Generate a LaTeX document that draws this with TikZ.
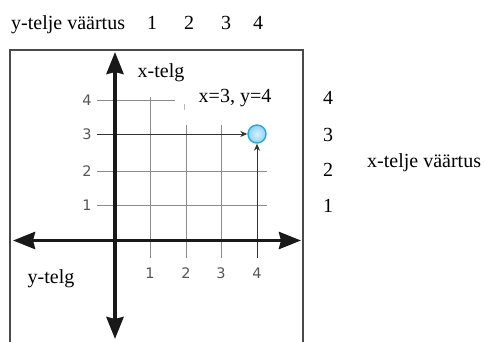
\documentclass[tikz,border=0pt]{standalone}
\usepackage{fontspec}
\setmainfont{Liberation Serif}
\newfontfamily\ticksans{DejaVu Sans}
\usetikzlibrary{arrows.meta}
\definecolor{gridgray}{HTML}{8C8C8C}
\definecolor{framegray}{HTML}{4A4A4A}
\definecolor{ticktxt}{HTML}{555555}
\definecolor{dotfill}{HTML}{8FD3F5}
\definecolor{dotline}{HTML}{22A8EA}
\begin{document}
\begin{tikzpicture}[x=1pt,y=-1pt,
  lbl/.style={font=\fontsize{20pt}{22pt}\selectfont, inner sep=0pt, text=black},
  tick/.style={font=\ticksans\fontsize{14.5pt}{16pt}\selectfont, inner sep=0pt, text=ticktxt},
  gridln/.style={draw=gridgray, line width=0.9pt},
  gridarrow/.style={gridln, draw=black!80, -{Stealth[length=7pt,width=6pt]}},
  axis/.style={line width=3.8pt, draw=black!90, -{Stealth[length=22pt,width=17pt,inset=2pt]}},
  framestyle/.style={draw=framegray, line width=1.8pt},
  dot/.style={circle, minimum size=18pt, inner sep=0pt, draw=dotline, line width=1.4pt, inner color=dotfill!35, outer color=dotfill}
]
\useasboundingbox (0,0) rectangle (485,342);
% frame
\coordinate (fbl) at (10,343);
\coordinate (ftl) at (10,50);
\coordinate (ftr) at (303,50);
\coordinate (fbr) at (303,343);
\draw[framestyle] (fbl) -- (ftl) -- (ftr) -- (fbr);
% grid coordinates
\coordinate (h4a) at (97,100); \coordinate (h4b) at (175,100);
\coordinate (h3a) at (97,134);
\coordinate (h2a) at (97,171); \coordinate (h2b) at (267,171);
\coordinate (h1a) at (97,205); \coordinate (h1b) at (267,205);
\coordinate (v1a) at (150,97); \coordinate (v1b) at (150,258);
\coordinate (v2a) at (186,125); \coordinate (v2b) at (186,258);
\coordinate (v3a) at (221,125); \coordinate (v3b) at (221,258);
\coordinate (v4b) at (257,258);
\coordinate (m2a) at (184,104); \coordinate (m2b) at (184,110);
\draw[gridln] (h4a) -- (h4b);
\draw[gridln] (h2a) -- (h2b);
\draw[gridln] (h1a) -- (h1b);
\draw[gridln] (v1a) -- (v1b);
\draw[gridln] (v2a) -- (v2b);
\draw[gridln] (v3a) -- (v3b);
\draw[gridln, draw=gridgray!60] (m2a) -- (m2b);
% point
\node[dot] (pt) at (257,134) {};
\draw[gridarrow] (h3a) -- (pt.west);
\draw[gridarrow] (v4b) -- (pt.south);
% axes
\coordinate (yb) at (115,52);
\coordinate (yc) at (115,339);
\coordinate (xc) at (115,240.5);
\coordinate (xa) at (13,240.5);
\coordinate (xb) at (301,240.5);
\draw[axis] (xc) -- (yb);
\draw[axis] (xc) -- (yc);
\draw[axis] (xc) -- (xa);
\draw[axis] (xc) -- (xb);
% tick labels
\node[tick] (t4) at (87,100) {4};
\node[tick] (t3) at (87,134) {3};
\node[tick] (t2) at (87,171) {2};
\node[tick] (t1) at (87,205) {1};
\node[tick] (b1) at (150,273) {1};
\node[tick] (b2) at (186,273) {2};
\node[tick] (b3) at (221,273) {3};
\node[tick] (b4) at (257,273) {4};
% labels
\node[lbl] (xtelg) at (161,73) {x-telg};
\node[lbl] (coord) at (235,98) {x=3, y=4};
\node[lbl] (ytelg) at (51,279) {y-telg};
\node[lbl, anchor=base west] (ytv) at (11,30) {y-telje väärtus};
\node[lbl, anchor=base] (top1) at (152,30) {1};
\node[lbl, anchor=base] (top2) at (189,30) {2};
\node[lbl, anchor=base] (top3) at (226,30) {3};
\node[lbl, anchor=base] (top4) at (258,30) {4};
\node[lbl] (r4) at (328,98) {4};
\node[lbl] (r3) at (328,135) {3};
\node[lbl] (r2) at (328,170) {2};
\node[lbl] (r1) at (328,206) {1};
\node[lbl, anchor=west] (xtv) at (367,163) {x-telje väärtus};
\end{tikzpicture}
\end{document}
